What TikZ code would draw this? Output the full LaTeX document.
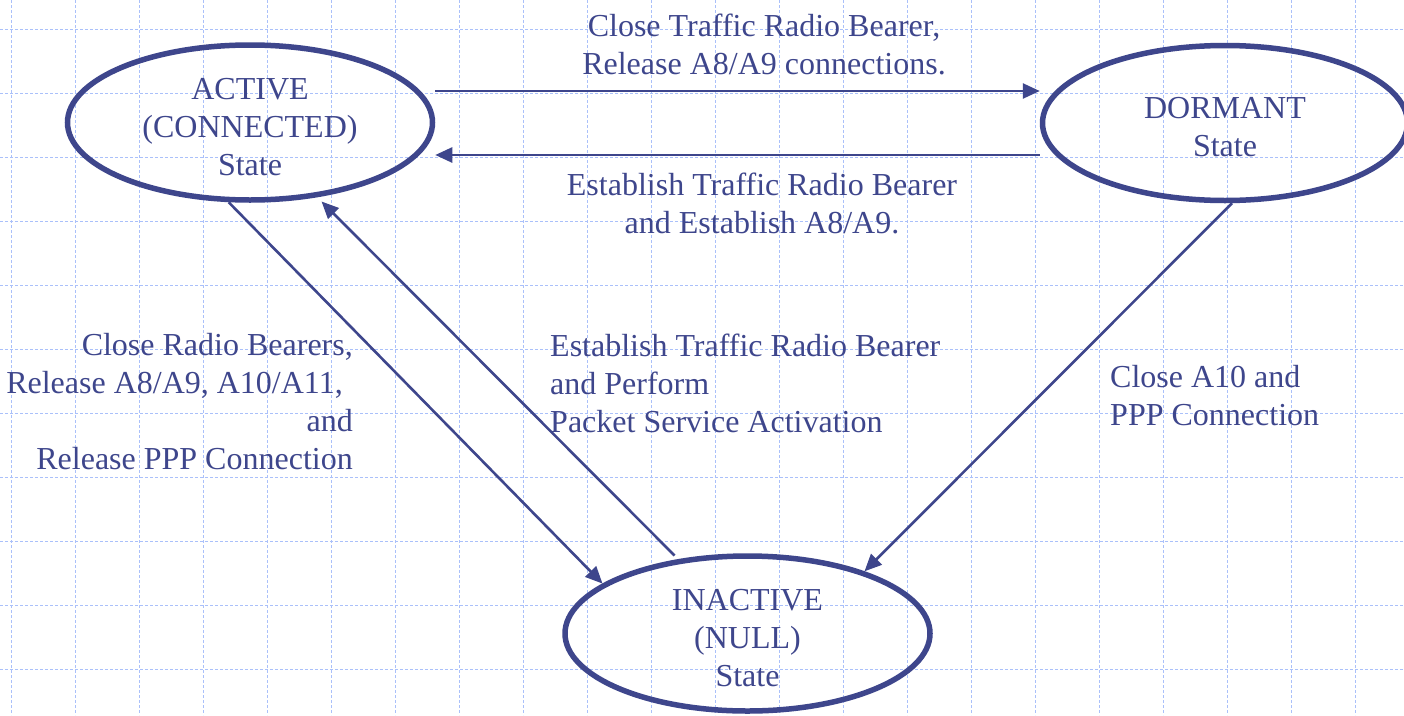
\documentclass[tikz,border=0pt]{standalone}
\usepackage{fontspec}
\setmainfont{Liberation Serif}
\usetikzlibrary{arrows.meta,shapes.geometric}
\definecolor{ink}{RGB}{62,70,140}
\definecolor{gridc}{RGB}{170,192,250}
\newcommand{\toppad}{\rule{0pt}{30pt}}
\begin{document}
\begin{tikzpicture}[x=1pt,y=-1pt,
  state/.style={ellipse, draw=ink, line width=5.5pt, minimum width=365pt, minimum height=155pt,
    inner sep=0pt, text=ink, align=center, font=\fontsize{32}{38}\selectfont},
  lbl/.style={text=ink, font=\fontsize{32}{38}\selectfont, inner sep=0pt},
  conn/.style={draw=ink, line width=2.6pt, -{Triangle[length=17pt,width=15pt]}},
  gridline/.style={draw=gridc, line width=1pt, dash pattern=on 3pt off 2pt}]
\useasboundingbox (0,0) rectangle (1404,715);
\fill[white] (0,0) rectangle (1404,715);
\foreach \i in {0,...,21} \draw[gridline] (11+64*\i,0) -- (11+64*\i,715);
\foreach \j in {0,...,10} \draw[gridline] (0,29+64*\j) -- (1404,29+64*\j);

\node[state] (act) at (250,122.5) {\toppad ACTIVE\\(CONNECTED)\\State};
\node[state] (dorm) at (1225,123) {\toppad DORMANT\\State};
\node[state] (inact) at (747.5,633.5) {\toppad INACTIVE\\(NULL)\\State};

\draw[conn] ([yshift=31.5pt]act.east) -- ([yshift=32pt]dorm.west);
\draw[conn] ([yshift=-32pt]dorm.west) -- ([yshift=-32.5pt]act.east);
\draw[conn] (act.-105) -- (inact.161);
\draw[conn, shorten <=5pt, shorten >=6pt] (inact.133) -- (act.-48);
\draw[conn] (dorm.-85) -- (inact.28);

\node[lbl, align=center, anchor=base] (ltop) at (764,74) {Close Traffic Radio Bearer,\\Release A8/A9 connections.};
\node[lbl, align=center, anchor=base] (lback) at (762,233) {Establish Traffic Radio Bearer\\and Establish A8/A9.};
\node[lbl, align=right, anchor=base east] (lleft) at (353,469) {Close Radio Bearers,\\Release A8/A9, A10/A11,\rule{10pt}{0pt}\\and\\Release PPP Connection};
\node[lbl, align=left, anchor=base west] (lmid) at (550,432) {Establish Traffic Radio Bearer\\and Perform\\Packet Service Activation};
\node[lbl, align=left, anchor=base west] (lright) at (1110,425) {Close A10 and\\PPP Connection};
\end{tikzpicture}
\end{document}
